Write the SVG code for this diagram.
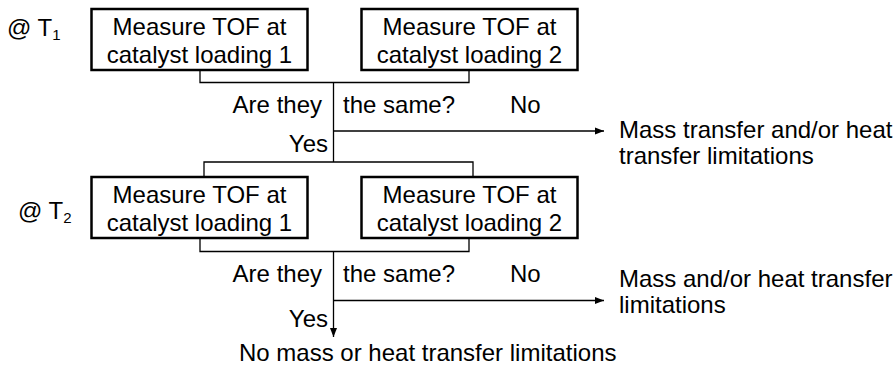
<svg xmlns="http://www.w3.org/2000/svg" width="896" height="367" viewBox="0 0 896 367">
<style>
text{font-family:"Liberation Sans",Arial,sans-serif;font-size:24px;fill:#000}
.c{text-anchor:middle}
.r{text-anchor:end}
.box{fill:#fff;stroke:#000;stroke-width:2.5}
.ln{fill:none;stroke:#000;stroke-width:1.3}
.sub{font-size:15px}
</style>
<defs>
<marker id="ah" markerWidth="10" markerHeight="8" refX="9" refY="4" orient="auto" markerUnits="userSpaceOnUse">
<path d="M0,0.5 L9,4 L0,7.5 Z" fill="#000"/>
</marker>
</defs>
<g id="label-t1"><text x="7" y="36">@ T<tspan class="sub" dy="4">1</tspan></text></g>
<g id="label-t2"><text x="18" y="219">@ T<tspan class="sub" dy="4">2</tspan></text></g>
<g id="box1"><rect class="box" x="91.5" y="9" width="216" height="61"/><text class="c" x="199.5" y="35">Measure TOF at</text><text class="c" x="199.5" y="63">catalyst loading 1</text></g>
<g id="box2"><rect class="box" x="361.5" y="9" width="216" height="61"/><text class="c" x="469.5" y="35">Measure TOF at</text><text class="c" x="469.5" y="63">catalyst loading 2</text></g>
<g id="box3"><rect class="box" x="91.5" y="177" width="216" height="61"/><text class="c" x="199.5" y="203">Measure TOF at</text><text class="c" x="199.5" y="231">catalyst loading 1</text></g>
<g id="box4"><rect class="box" x="361.5" y="177" width="216" height="61"/><text class="c" x="469.5" y="203">Measure TOF at</text><text class="c" x="469.5" y="231">catalyst loading 2</text></g>
<g id="connectors">
<path class="ln" d="M200,70 V82.5 H469 V70"/>
<path class="ln" d="M333.5,82.5 V162"/>
<path class="ln" d="M333.5,131 H604" marker-end="url(#ah)"/>
<path class="ln" d="M204,177 V162 H473 V177"/>
<path class="ln" d="M200,238 V251.5 H469 V238"/>
<path class="ln" d="M333.5,251.5 V337" marker-end="url(#ah)"/>
<path class="ln" d="M333.5,300.5 H604" marker-end="url(#ah)"/>
</g>
<g id="labels">
<text class="r" x="322" y="113">Are they</text>
<text x="343" y="113">the same?</text>
<text x="510" y="113">No</text>
<text class="r" x="328" y="152">Yes</text>
<text x="619" y="138">Mass transfer and/or heat</text>
<text x="619" y="164">transfer limitations</text>
<text class="r" x="322" y="282">Are they</text>
<text x="343" y="282">the same?</text>
<text x="510" y="282">No</text>
<text class="r" x="328" y="327">Yes</text>
<text x="619" y="287">Mass and/or heat transfer</text>
<text x="619" y="313">limitations</text>
<text x="239" y="361">No mass or heat transfer limitations</text>
</g>
</svg>
